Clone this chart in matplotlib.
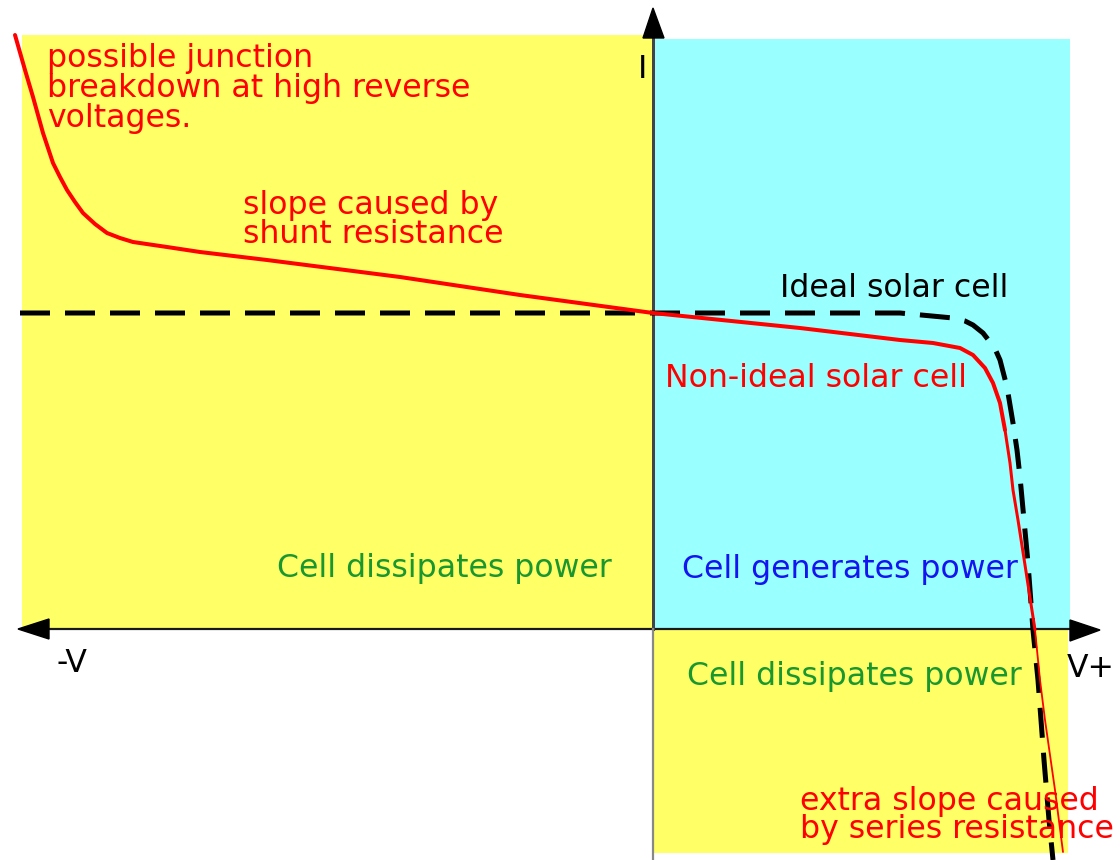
import matplotlib
matplotlib.use("Agg")
import matplotlib.pyplot as plt
from matplotlib.patches import Rectangle, Polygon

# ---------------- data (V and I in drawing units, origin at axis crossing)
# Non-ideal solar cell I-V curve
red_v = [-638, -628, -620, -615, -610, -605, -600, -593, -586, -578, -570, -558, -546, -533,
         -520, -486, -453, -386, -253, -133,
         0, 147, 247, 280, 307, 320, 332, 340, 347, 352]
red_i = [594, 559, 532, 514, 496, 481, 466, 452, 439, 427, 416, 405, 396, 391,
         387, 382, 377, 369, 352, 334,
         316, 301, 289, 286, 281, 274, 261, 246, 226, 199]
red_mid_v = [352, 357, 360, 365, 372, 382]
red_mid_i = [199, 166, 139, 109, 64, -1]
red_low_v = [382, 387, 392, 402, 410]
red_low_i = [-1, -51, -91, -161, -223]

# Ideal solar cell I-V curve
ideal_v = [-633, 0, 247, 300, 312, 320, 330, 337, 343, 347, 354, 360, 364, 367, 375, 380, 385, 391, 396, 400]
ideal_i = [316, 316, 316, 311, 308, 304, 296, 287, 278, 269, 242, 206, 179, 152, 66, -1, -51, -131, -191, -231]

# Region labels
region_labels = ["Cell dissipates power", "Cell generates power", "Cell dissipates power"]
axis_labels = ["-V", "V+", "I"]

# ---------------- figure
W, H = 1120, 860
X0, Y0 = 653, 629          # pixel position of the axis crossing

fig = plt.figure(figsize=(W / 100, H / 100), dpi=100)
ax = fig.add_axes([0, 0, 1, 1])
ax.set_xlim(-X0, W - X0)
ax.set_ylim(Y0 - H, Y0)
ax.axis("off")


def P(px, py):
    return px - X0, Y0 - py


YELLOW = "#FFFF66"
CYAN = "#99FFFF"
GREEN = "#1A962E"
BLUE = "#1414F0"
RED = "#FF0000"

# quadrant backgrounds
ax.add_patch(Rectangle(P(22, 629), 653 - 22, 629 - 35, facecolor=YELLOW, edgecolor="none", zorder=0))
ax.add_patch(Rectangle(P(653, 629), 1070 - 653, 629 - 39, facecolor=CYAN, edgecolor="none", zorder=0))
ax.add_patch(Rectangle(P(653, 853), 1068 - 653, 853 - 629, facecolor=YELLOW, edgecolor="none", zorder=0))

# axes
px2pt = 72 / 100
ax.plot([P(40, 629)[0], P(1080, 629)[0]], [0, 0], color="#1a1a1a", lw=2.2 * px2pt, zorder=3)
ax.plot([0, 0], [0, P(0, 30)[1]], color="#444444", lw=3 * px2pt, zorder=3)
ax.plot([0, 0], [0, P(0, 860)[1]], color="#888888", lw=2.2 * px2pt, zorder=3)
# arrow heads
ax.add_patch(Polygon([P(653, 8), P(643, 38), P(664, 38)], closed=True, color="black", zorder=4))
ax.add_patch(Polygon([P(18, 629), P(49, 619), P(49, 639)], closed=True, color="black", zorder=4))
ax.add_patch(Polygon([P(1100, 630), P(1070, 620), P(1070, 641)], closed=True, color="black", zorder=4))

# curves
ax.plot(ideal_v, ideal_i, color="black", lw=5 * px2pt, linestyle=(0, (6, 3)),
        dash_capstyle="butt", zorder=5)
ax.plot(red_v, red_i, color=RED, lw=4 * px2pt, solid_capstyle="round",
        solid_joinstyle="round", zorder=6)
ax.plot(red_mid_v, red_mid_i, color=RED, lw=3 * px2pt, solid_capstyle="round",
        solid_joinstyle="round", zorder=6)
ax.plot(red_low_v, red_low_i, color=RED, lw=1.8 * px2pt, solid_capstyle="round",
        solid_joinstyle="round", zorder=6)

# texts
FS = 22.7
FAM = ["DejaVu Sans"]


def txt(s, px, py, color):
    x, y = P(px, py)
    ax.text(x, y, s, color=color, fontsize=FS, family=FAM, ha="left", va="baseline", zorder=7)


txt("possible junction", 47, 67, RED)
txt("breakdown at high reverse", 47, 97, RED)
txt("voltages.", 47, 127, RED)
txt("slope caused by", 243, 214, RED)
txt("shunt resistance", 243, 243, RED)
txt("Ideal solar cell", 780, 297, "black")
txt("Non-ideal solar cell", 665, 387, RED)
txt(region_labels[0], 277, 577, GREEN)
txt(region_labels[1], 682, 578, BLUE)
txt(region_labels[2], 687, 685, GREEN)
txt("extra slope caused", 800, 810, RED)
txt("by series resistance", 800, 838, RED)
txt(axis_labels[0], 57, 672, "black")
txt(axis_labels[1], 1067, 677, "black")
txt(axis_labels[2], 638, 78, "black")

fig.savefig("out.png", dpi=100)
